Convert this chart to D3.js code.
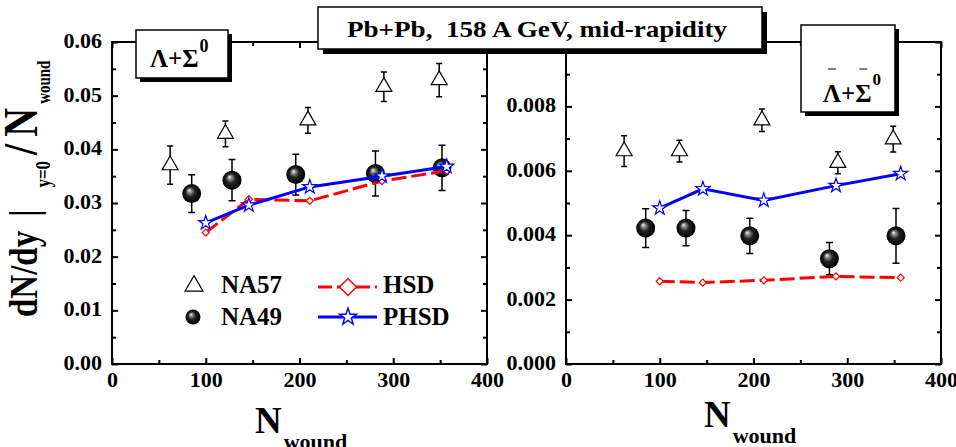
<!DOCTYPE html>
<html>
<head>
<meta charset="utf-8">
<script src="https://cdn.jsdelivr.net/npm/d3@7"></script>
<style>
  body { margin: 0; background: #fff; }
  svg text { font-family: "Liberation Serif", "Times New Roman", serif; font-weight: bold; fill: #000; }
</style>
</head>
<body>
<div id="chart"></div>
<script>
// N_wound of each centrality bin
const nwNA57 = [62, 121, 209, 290, 349]
const nwNA49 = [85, 128, 196, 281, 352]
const nwModel = [100, 146, 211, 288, 357]

// Lambda + Sigma0
const lamNA57 = [0.03705, 0.0429, 0.0454, 0.05165, 0.0529]
const lamNA57Err = [0.00355, 0.0024, 0.0024, 0.00275, 0.0031]
const lamNA49 = [0.03175, 0.03425, 0.0353, 0.0355, 0.03655]
const lamNA49Err = [0.0035, 0.00385, 0.0038, 0.0042, 0.0042]
const lamHSD = [0.0245, 0.0307, 0.0304, 0.0341, 0.0360]
const lamPHSD = [0.0263, 0.0296, 0.0330, 0.0350, 0.0368]

// anti-Lambda + anti-Sigma0
const alamNA57 = [0.00661, 0.00661, 0.00757, 0.00625, 0.00698]
const alamNA57Err = [0.00048, 0.00034, 0.00035, 0.00034, 0.0004]
const alamNA49 = [0.00422, 0.00422, 0.00398, 0.00327, 0.00398]
const alamNA49Err = [0.0006, 0.00055, 0.00055, 0.0005, 0.00085]
const alamHSD = [0.00257, 0.00253, 0.00260, 0.00272, 0.00268]
const alamPHSD = [0.00484, 0.00544, 0.00508, 0.00554, 0.00591]

const xTicks = [0, 100, 200, 300, 400]
const legendLabels = ['NA57', 'NA49', 'HSD', 'PHSD']
const title = 'Pb+Pb,  158 A GeV, mid-rapidity'

const red = '#ff0000'
const blue = '#0000ff'
const plotTop = 42, plotBottom = 364, panelW = 375

const svg = d3.select('#chart').append('svg').attr('width', 956).attr('height', 447)

const grad = svg.append('defs').append('radialGradient').attr('id', 'ball')
  .attr('cx', '50%').attr('cy', '50%').attr('r', '50%').attr('fx', '36%').attr('fy', '32%')
grad.selectAll('stop')
  .data([[0, '#ffffff'], [0.16, '#a0a0a0'], [0.5, '#222'], [1, '#000']])
  .join('stop').attr('offset', d => d[0]).attr('stop-color', d => d[1])

const triangle = size => d3.symbol(d3.symbolTriangle, size)()
const star = size => d3.symbol(d3.symbolStar, size)()
const diamond = size => d3.symbol(d3.symbolSquare, size)()

function styleAxis(g, fontSize) {
  g.select('.domain').remove()
  g.selectAll('.tick line').attr('stroke', '#000').attr('stroke-width', 2)
  g.attr('font-size', fontSize)
}

function drawPanel(p) {
  const x = d3.scaleLinear().domain([0, 400]).range([p.left, p.left + panelW])
  const y = d3.scaleLinear().domain(p.yDomain).range([plotBottom, plotTop])
  const g = svg.append('g')

  const xMinor = xTicks.slice(1).map((d, i) => (d + xTicks[i]) / 2)
  const yMajor = d3.ticks(p.yDomain[0], p.yDomain[1], p.nTicks)
  const yMinor = yMajor.slice(1).map((d, i) => (d + yMajor[i]) / 2)
  // the top label of the right panel sits under the title box
  const yLabels = p.labelTop ? yMajor : yMajor.slice(0, -1)

  g.append('g').attr('transform', `translate(0,${plotBottom})`)
    .call(d3.axisBottom(x).tickValues(xTicks).tickSize(-6).tickPadding(7).tickFormat(d3.format('d')))
    .call(styleAxis, 22)
  g.append('g').attr('transform', `translate(0,${plotBottom})`)
    .call(d3.axisBottom(x).tickValues(xMinor).tickSize(-4).tickFormat(''))
    .call(styleAxis, 22)
  g.append('g').attr('transform', `translate(0,${plotTop})`)
    .call(d3.axisTop(x).tickValues(xTicks).tickSize(-6).tickFormat(''))
    .call(styleAxis, 22)
  g.append('g').attr('transform', `translate(0,${plotTop})`)
    .call(d3.axisTop(x).tickValues(xMinor).tickSize(-4).tickFormat(''))
    .call(styleAxis, 22)

  g.append('g').attr('transform', `translate(${p.left},0)`)
    .call(d3.axisLeft(y).tickValues(yLabels).tickSize(-6).tickPadding(10).tickFormat(p.fmt))
    .call(styleAxis, 22)
    .selectAll('text').attr('dy', '0.25em')
  g.append('g').attr('transform', `translate(${p.left},0)`)
    .call(d3.axisLeft(y).tickValues(yMinor).tickSize(-4).tickFormat(''))
    .call(styleAxis, 22)
  g.append('g').attr('transform', `translate(${p.left + panelW},0)`)
    .call(d3.axisRight(y).tickValues(yMajor).tickSize(-6).tickFormat(''))
    .call(styleAxis, 22)
  g.append('g').attr('transform', `translate(${p.left + panelW},0)`)
    .call(d3.axisRight(y).tickValues(yMinor).tickSize(-4).tickFormat(''))
    .call(styleAxis, 22)

  g.append('rect')
    .attr('x', p.left).attr('y', plotTop).attr('width', panelW).attr('height', plotBottom - plotTop)
    .attr('fill', 'none').attr('stroke', '#000').attr('stroke-width', 2)

  const na49 = p.na49.map((v, i) => ({ n: nwNA49[i], v, e: p.na49Err[i] }))
  const na57 = p.na57.map((v, i) => ({ n: nwNA57[i], v, e: p.na57Err[i] }))

  function errorBars(data, cap) {
    const eg = g.append('g').attr('stroke', '#000').attr('stroke-width', 1.5).attr('fill', 'none')
    eg.selectAll('.bar').data(data).join('path').attr('class', 'bar')
      .attr('d', d => {
        const cx = x(d.n), y1 = y(d.v + d.e), y0 = y(d.v - d.e)
        return `M${cx},${y0}V${y1}M${cx - cap},${y1}H${cx + cap}M${cx - cap},${y0}H${cx + cap}`
      })
  }

  // NA49 balls with error bars
  errorBars(na49, 3.5)
  g.selectAll('.ball').data(na49).join('circle').attr('class', 'ball')
    .attr('cx', d => x(d.n)).attr('cy', d => y(d.v)).attr('r', 9.5)
    .attr('fill', 'url(#ball)')

  // NA57 open triangles
  errorBars(na57, 3)
  g.selectAll('.tri').data(na57).join('path').attr('class', 'tri')
    .attr('d', triangle(110))
    .attr('transform', d => `translate(${x(d.n)},${y(d.v)})`)
    .attr('fill', '#fff').attr('stroke', '#000').attr('stroke-width', 1.2)

  const line = d3.line().x((d, i) => x(nwModel[i])).y(d => y(d))

  g.append('path').datum(p.hsd).attr('d', line)
    .attr('fill', 'none').attr('stroke', red).attr('stroke-width', 3).attr('stroke-dasharray', '15,5')
  g.selectAll('.dia').data(p.hsd).join('path').attr('class', 'dia')
    .attr('d', diamond(25))
    .attr('transform', (d, i) => `translate(${x(nwModel[i])},${y(d)}) rotate(45)`)
    .attr('fill', '#fff').attr('stroke', red).attr('stroke-width', 1.2)

  g.append('path').datum(p.phsd).attr('d', line)
    .attr('fill', 'none').attr('stroke', blue).attr('stroke-width', 3)
  g.selectAll('.star').data(p.phsd).join('path').attr('class', 'star')
    .attr('d', star(63))
    .attr('transform', (d, i) => `translate(${x(nwModel[i])},${y(d)})`)
    .attr('fill', '#fff').attr('stroke', blue).attr('stroke-width', 1.2)

  // x axis title
  const xt = svg.append('text').attr('x', p.left + p.xTitleDx).attr('y', p.xTitleY).attr('font-size', 37)
  xt.append('tspan').text('N')
  xt.append('tspan').attr('font-size', 22).attr('dx', 2).attr('dy', 16).text('wound')
}

function box(x0, y0, w, h, off) {
  svg.append('rect').attr('x', x0 + off).attr('y', y0 + off).attr('width', w).attr('height', h).attr('fill', '#000')
  svg.append('rect').attr('x', x0).attr('y', y0).attr('width', w).attr('height', h)
    .attr('fill', '#fff').attr('stroke', '#000').attr('stroke-width', 1.5)
}

drawPanel({
  left: 112, yDomain: [0, 0.06], nTicks: 6, fmt: d3.format('.2f'), labelTop: true,
  xTitleDx: 143, xTitleY: 433,
  na57: lamNA57, na57Err: lamNA57Err, na49: lamNA49, na49Err: lamNA49Err, hsd: lamHSD, phsd: lamPHSD
})
drawPanel({
  left: 566, yDomain: [0, 0.010], nTicks: 5, fmt: d3.format('.3f'), labelTop: false,
  xTitleDx: 138, xTitleY: 427,
  na57: alamNA57, na57Err: alamNA57Err, na49: alamNA49, na49Err: alamNA49Err, hsd: alamHSD, phsd: alamPHSD
})

// legend (left panel)
const lg = svg.append('g')
lg.append('path').attr('d', triangle(140)).attr('transform', 'translate(194,286)')
  .attr('fill', '#fff').attr('stroke', '#000').attr('stroke-width', 1.2)
lg.append('circle').attr('cx', 193).attr('cy', 317).attr('r', 7.5).attr('fill', 'url(#ball)')
lg.append('line').attr('x1', 318).attr('x2', 377).attr('y1', 287).attr('y2', 287)
  .attr('stroke', red).attr('stroke-width', 3).attr('stroke-dasharray', '14,5')
lg.append('path').attr('d', diamond(144)).attr('transform', 'translate(348,287) rotate(45)')
  .attr('fill', '#fff').attr('stroke', red).attr('stroke-width', 1.4)
lg.append('line').attr('x1', 318).attr('x2', 377).attr('y1', 317).attr('y2', 317)
  .attr('stroke', blue).attr('stroke-width', 3)
lg.append('path').attr('d', star(91)).attr('transform', 'translate(348,317)')
  .attr('fill', '#fff').attr('stroke', blue).attr('stroke-width', 1.4)
lg.selectAll('.lt').data(legendLabels).join('text').attr('class', 'lt')
  .attr('x', (d, i) => i < 2 ? 221 : 383)
  .attr('y', (d, i) => i % 2 === 0 ? 293 : 325)
  .attr('font-size', 25)
  .text(d => d)

// y axis title
const yt = svg.append('text').attr('transform', 'translate(37,317) scale(1.2,1) rotate(-90)').attr('font-size', 33)
yt.append('tspan').text('dN/dy')
yt.append('tspan').attr('dx', 14).text('|')
yt.append('tspan').attr('font-size', 17).attr('dx', 22).attr('dy', 11).text('y=0')
yt.append('tspan').attr('font-size', 40).attr('dx', 6).attr('dy', -11).text('/')
yt.append('tspan').attr('font-size', 40).attr('dx', 7).text('N')
yt.append('tspan').attr('font-size', 15).attr('dx', 4).attr('dy', 11).text('wound')

// title box
box(318, 7, 444, 42, 5)
svg.append('text').attr('x', 347).attr('y', 37).attr('font-size', 23)
  .style('white-space', 'pre')
  .attr('textLength', 380).attr('lengthAdjust', 'spacingAndGlyphs')
  .text(title)

// particle labels
box(136, 30, 92, 48, 4)
const l1 = svg.append('text').attr('x', 150).attr('y', 67).attr('font-size', 25)
l1.append('tspan').text('Λ+Σ')
l1.append('tspan').attr('font-size', 18).attr('dx', 1).attr('dy', -15).text('0')

box(801, 25, 94, 87, 4)
const l2 = svg.append('text').attr('x', 823).attr('y', 102).attr('font-size', 25)
l2.append('tspan').text('Λ+Σ')
l2.append('tspan').attr('font-size', 17).attr('dx', 1).attr('dy', -17).text('0')
// overbars for the antiparticles
const node = l2.node()
;[0, 2].forEach(k => {
  const b = node.getExtentOfChar(k)
  const cx = b.x + b.width / 2
  svg.append('line').attr('x1', cx - 4).attr('x2', cx + 4).attr('y1', 69).attr('y2', 69)
    .attr('stroke', '#000').attr('stroke-width', 1)
})
</script>
</body>
</html>
